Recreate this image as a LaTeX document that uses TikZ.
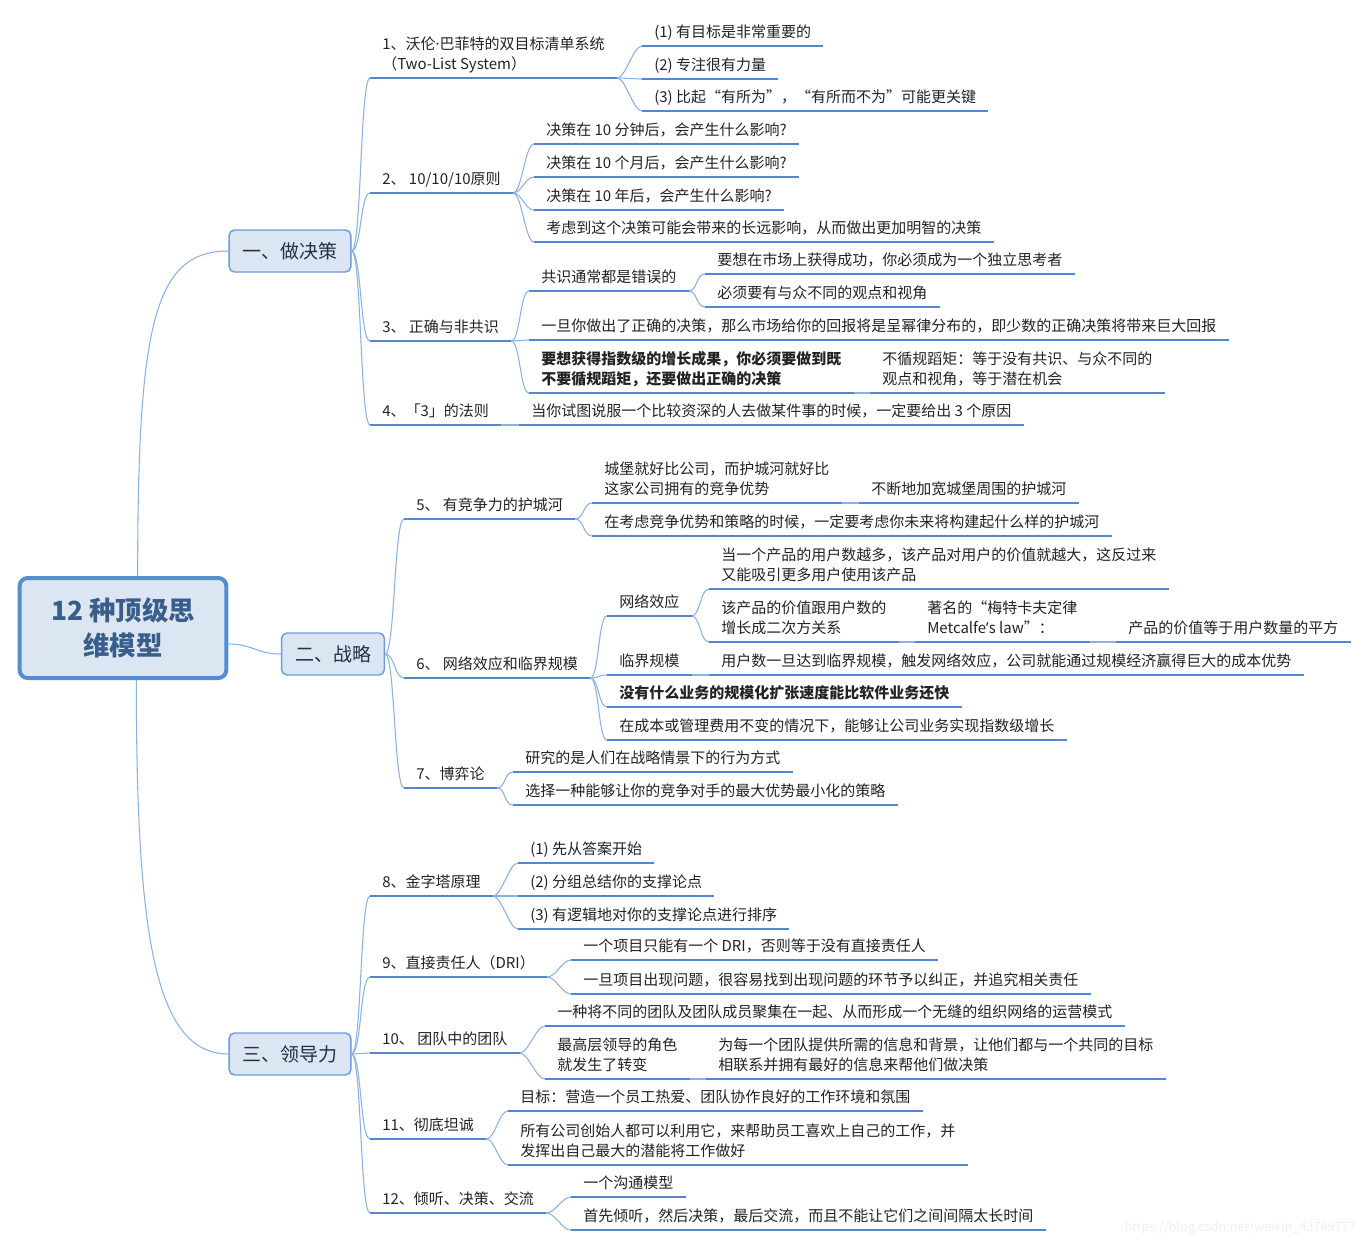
\documentclass[tikz,border=0pt]{standalone}
\usepackage{fontspec}
\setmainfont{Noto Sans CJK SC}
\newfontfamily\latinf{Noto Sans}
\usetikzlibrary{calc}
\definecolor{ulc}{RGB}{82,135,205}
\definecolor{cnc}{RGB}{140,178,226}
\definecolor{txc}{RGB}{35,35,35}
\definecolor{boxfill}{RGB}{220,230,242}
\definecolor{rootline}{RGB}{88,140,208}
\definecolor{mainline}{RGB}{110,156,218}
\definecolor{roottext}{RGB}{58,94,140}
\definecolor{maintext}{RGB}{36,48,66}
\definecolor{wmark}{RGB}{240,240,240}
\newcommand\twol[2]{\vbox{\hbox{#1}\hbox{#2}}}
\begin{document}
\begin{tikzpicture}[x=0.75pt,y=-0.75pt,
  tp/.style={anchor=south west, inner xsep=9pt, inner ysep=6.4pt, text depth=0pt,
     font=\fontsize{11.25pt}{15pt}\selectfont, text=txc},
  ul/.style={draw=ulc, line width=1.8pt},
  cn/.style={draw=cnc, line width=0.8pt},
  rootbox/.style={draw=rootline, line width=3pt, fill=boxfill, rounded corners=6pt,
     minimum width=155pt, minimum height=75pt, align=center, text=roottext,
     font=\fontsize{19.8pt}{26pt}\selectfont\bfseries},
  mainbox/.style={draw=mainline, line width=1.1pt, fill=boxfill, rounded corners=4pt,
     inner xsep=10pt, minimum height=31.5pt, text=maintext,
     font=\fontsize{14.25pt}{18pt}\selectfont}]
\fill[white] (0,0) rectangle (1367,1242);
\useasboundingbox (0,0) rectangle (1367,1242);

% root and main topics
\node[rootbox] (r) at (123,628) {12 种顶级思\\维模型};
\node[mainbox] (t1) at (290,251) {一、做决策};
\node[mainbox] (t2) at (333,654) {二、战略};
\node[mainbox] (t3) at (290,1054) {三、领导力};

\draw[cn] ([xshift=11pt]r.north) .. controls +(0,-250) and +(-75,0) .. (t1.west);
\draw[cn] ([xshift=10pt]r.south) .. controls +(0,250) and +(-75,0) .. (t3.west);
\draw[cn] ([yshift=-12pt]r.east) .. controls +(25,0) and +(-25,0) .. (t2.west);

% ---- 一、做决策
\node[tp] (a1) at (370,78) {\twol{1、沃伦{\latinf ·}巴菲特的双目标清单系统}{（Two-List System）}};
\node[tp] (a11) at (642,46) {(1) 有目标是非常重要的};
\node[tp] (a12) at (642,79) {(2) 专注很有力量};
\node[tp] (a13) at (642,111) {(3) 比起“有所为”，“有所而不为”可能更关键};
\node[tp] (a2) at (370,193) {2、 10/10/10原则};
\node[tp] (a21) at (534,144) {决策在 10 分钟后，会产生什么影响?};
\node[tp] (a22) at (534,177) {决策在 10 个月后，会产生什么影响?};
\node[tp] (a23) at (534,210) {决策在 10 年后，会产生什么影响?};
\node[tp] (a24) at (534,242) {考虑到这个决策可能会带来的长远影响，从而做出更加明智的决策};
\node[tp] (a3) at (370,341) {3、 正确与非共识};
\node[tp] (a31) at (529,291) {共识通常都是错误的};
\node[tp] (a311) at (705,274) {要想在市场上获得成功，你必须成为一个独立思考者};
\node[tp] (a312) at (705,307) {必须要有与众不同的观点和视角};
\node[tp] (a32) at (529,340) {一旦你做出了正确的决策，那么市场给你的回报将是呈幂律分布的，即少数的正确决策将带来巨大回报};
\node[tp,font=\fontsize{11.25pt}{15pt}\selectfont\bfseries] (a33) at (529,393) {\twol{要想获得指数级的增长成果，你必须要做到既}{不要循规蹈矩，还要做出正确的决策}};
\node[tp] (a331) at (870,393) {\twol{不循规蹈矩：等于没有共识、与众不同的}{观点和视角，等于潜在机会}};
\node[tp] (a4) at (370,425) {4、「3」的法则};
\node[tp] (a41) at (519,425) {当你试图说服一个比较资深的人去做某件事的时候，一定要给出 3 个原因};

% ---- 二、战略
\node[tp] (b5) at (404,519) {5、 有竞争力的护城河};
\node[tp] (b51) at (592,503) {\twol{城堡就好比公司，而护城河就好比}{这家公司拥有的竞争优势}};
\node[tp] (b511) at (859,503) {不断地加宽城堡周围的护城河};
\node[tp] (b52) at (592,536) {在考虑竞争优势和策略的时候，一定要考虑你未来将构建起什么样的护城河};
\node[tp] (b6) at (404,678) {6、 网络效应和临界规模};
\node[tp] (b61) at (607,616) {网络效应};
\node[tp] (b611) at (709,589) {\twol{当一个产品的用户数越多，该产品对用户的价值就越大，这反过来}{又能吸引更多用户使用该产品}};
\node[tp] (b612) at (709,642) {\twol{该产品的价值跟用户数的}{增长成二次方关系}};
\node[tp] (b6121) at (915,642) {\twol{著名的“梅特卡夫定律}{Metcalfe{\latinf ’}s law”：}};
\node[tp] (b61211) at (1116,642) {产品的价值等于用户数量的平方};
\node[tp] (b62) at (607,675) {临界规模};
\node[tp] (b621) at (709,675) {用户数一旦达到临界规模，触发网络效应，公司就能通过规模经济赢得巨大的成本优势};
\node[tp,font=\fontsize{11.25pt}{15pt}\selectfont\bfseries] (b63) at (607,707) {没有什么业务的规模化扩张速度能比软件业务还快};
\node[tp] (b64) at (607,740) {在成本或管理费用不变的情况下，能够让公司业务实现指数级增长};
\node[tp] (b7) at (404,788) {7、博弈论};
\node[tp] (b71) at (513,772) {研究的是人们在战略情景下的行为方式};
\node[tp] (b72) at (513,805) {选择一种能够让你的竞争对手的最大优势最小化的策略};

% ---- 三、领导力
\node[tp] (c8) at (370,896) {8、金字塔原理};
\node[tp] (c81) at (518,863) {(1) 先从答案开始};
\node[tp] (c82) at (518,896) {(2) 分组总结你的支撑论点};
\node[tp] (c83) at (518,929) {(3) 有逻辑地对你的支撑论点进行排序};
\node[tp] (c9) at (370,977) {9、直接责任人（DRI）};
\node[tp] (c91) at (571,960) {一个项目只能有一个 DRI，否则等于没有直接责任人};
\node[tp] (c92) at (571,994) {一旦项目出现问题，很容易找到出现问题的环节予以纠正，并追究相关责任};
\node[tp] (c10) at (370,1053) {10、 团队中的团队};
\node[tp] (c101) at (545,1026) {一种将不同的团队及团队成员聚集在一起、从而形成一个无缝的组织网络的运营模式};
\node[tp] (c102) at (545,1079) {\twol{最高层领导的角色}{就发生了转变}};
\node[tp] (c1021) at (706,1079) {\twol{为每一个团队提供所需的信息和背景，让他们都与一个共同的目标}{相联系并拥有最好的信息来帮他们做决策}};
\node[tp] (c11) at (370,1139) {11、彻底坦诚};
\node[tp] (c111) at (508,1111) {目标：营造一个员工热爱、团队协作良好的工作环境和氛围};
\node[tp] (c112) at (508,1165) {\twol{所有公司创始人都可以利用它，来帮助员工喜欢上自己的工作，并}{发挥出自己最大的潜能将工作做好}};
\node[tp] (c12) at (370,1213) {12、倾听、决策、交流};
\node[tp] (c121) at (571,1197) {一个沟通模型};
\node[tp] (c122) at (571,1230) {首先倾听，然后决策，最后交流，而且不能让它们之间间隔太长时间};

% connectors from main topics
\foreach \p/\c in {t1/a1,t1/a2,t1/a3,t1/a4,t2/b5,t2/b6,t2/b7,t3/c8,t3/c9,t3/c10,t3/c11,t3/c12}
  \draw[cn] (\p.east) .. controls +(10,0) and +(-10,0) .. (\c.south west);

% connectors between sub topics
\foreach \p/\c in {a1/a11,a1/a12,a1/a13,a2/a21,a2/a22,a2/a23,a2/a24,
  a3/a31,a3/a32,a3/a33,a31/a311,a31/a312,a33/a331,a4/a41,
  b5/b51,b5/b52,b51/b511,b6/b61,b6/b62,b6/b63,b6/b64,b61/b611,b61/b612,
  b612/b6121,b6121/b61211,b62/b621,b7/b71,b7/b72,
  c8/c81,c8/c82,c8/c83,c9/c91,c9/c92,c10/c101,c10/c102,c102/c1021,
  c11/c111,c11/c112,c12/c121,c12/c122}
  \draw[cn] (\p.south east) .. controls +(9,0) and +(-9,0) .. (\c.south west);

% underlines
\foreach \n in {a1,a11,a12,a13,a2,a21,a22,a23,a24,a3,a31,a311,a312,a32,a33,a331,a4,a41,
  b5,b51,b511,b52,b6,b61,b611,b612,b6121,b61211,b62,b621,b63,b64,b7,b71,b72,
  c8,c81,c82,c83,c9,c91,c92,c10,c101,c102,c1021,c11,c111,c112,c12,c121,c122}
  \draw[ul] (\n.south west) -- (\n.south east);

\node[anchor=east, text=wmark, font=\fontsize{9.5pt}{11pt}\selectfont, inner sep=0pt] (wm) at (1356,1228) {https://blog.csdn.net/weixin\_43749777};
\end{tikzpicture}
\end{document}
